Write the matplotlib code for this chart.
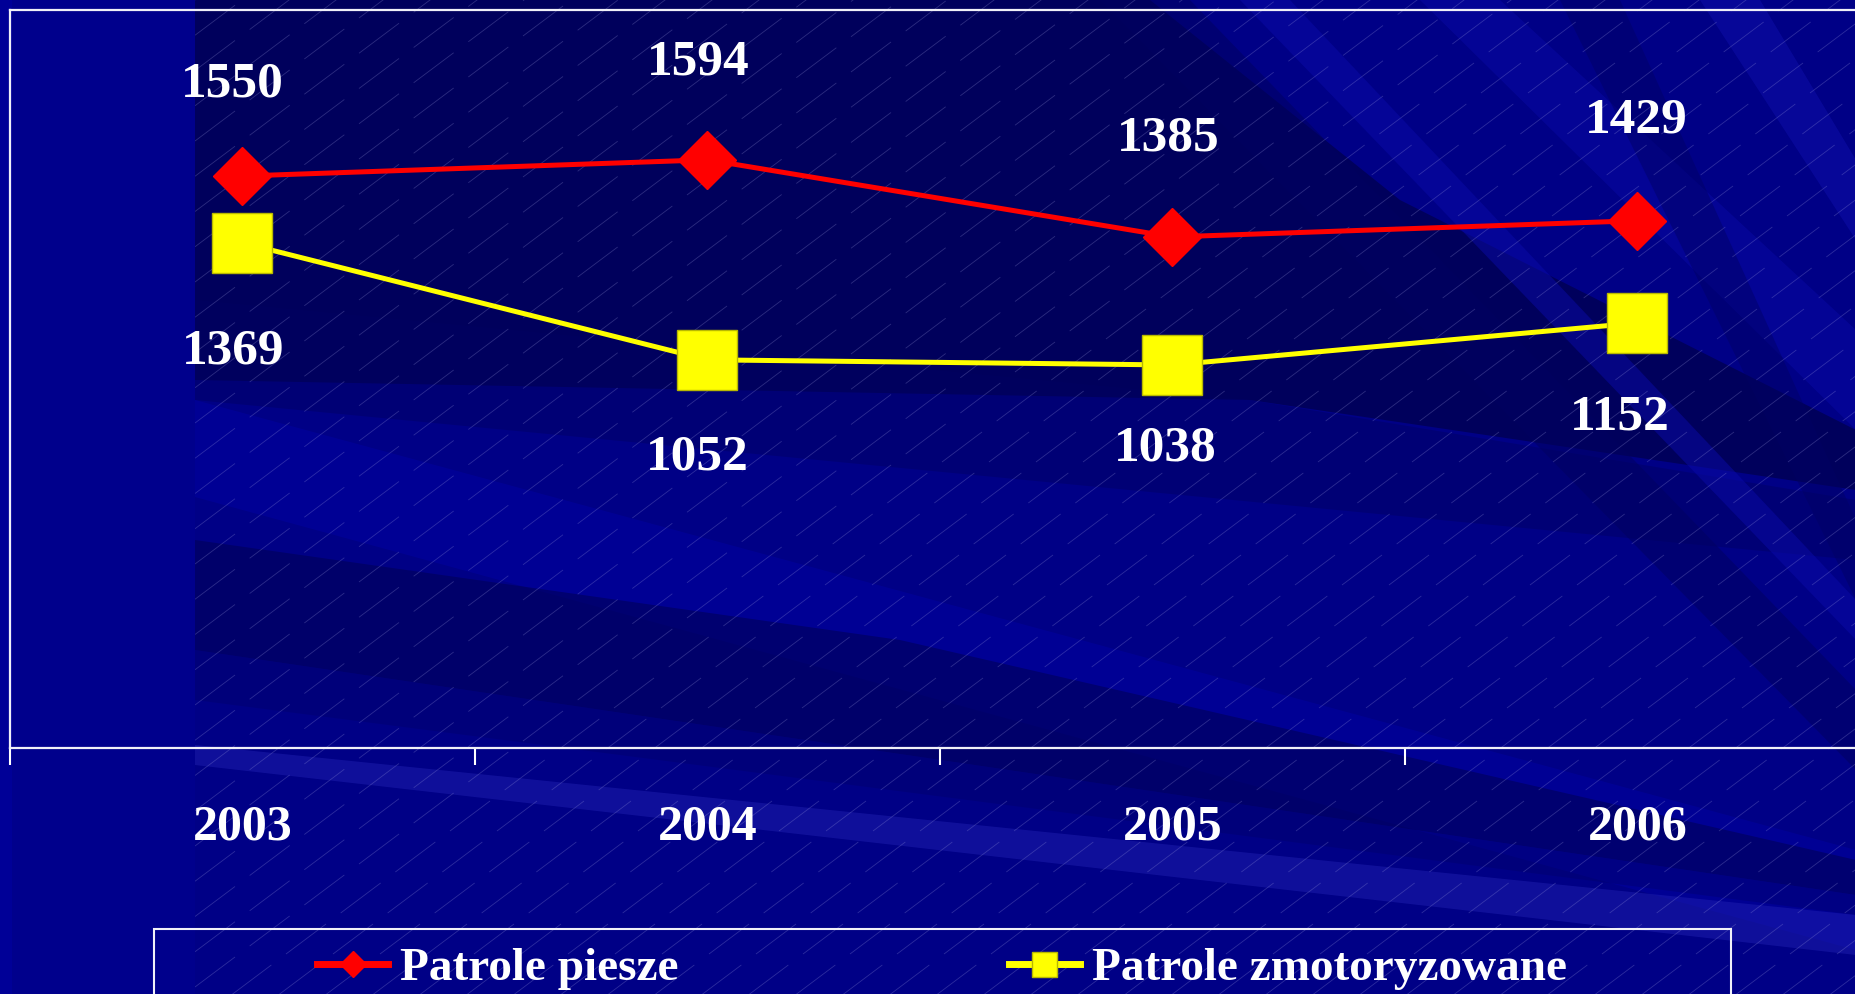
import numpy as np
import matplotlib.pyplot as plt
from matplotlib.lines import Line2D
from matplotlib.patches import Polygon, Rectangle
from matplotlib.collections import LineCollection

# dane
years = ['2003', '2004', '2005', '2006']
piesze = [1550, 1594, 1385, 1429]
zmotoryzowane = [1369, 1052, 1038, 1152]
series_names = ['Patrole piesze', 'Patrole zmotoryzowane']

# przesuniecia etykiet (pt) - jak w oryginale z PowerPointa
off_piesze = [(-7, 66), (-7, 70), (-3, 71), (-1, 72)]
off_zmot = [(-7, -78), (-7, -70), (-5, -60), (-13, -68)]

plt.rcParams['font.family'] = ['Liberation Serif', 'DejaVu Serif']
plt.rcParams['font.weight'] = 'bold'

W, H = 1856, 994
fig = plt.figure(figsize=(W / 100, H / 100), dpi=100)
fig.patch.set_facecolor('#000086')

# --- tlo (pasy + kreskowanie), wspolrzedne w pikselach, y w dol ---
bg = fig.add_axes([0, 0, 1, 1], zorder=-10)
bg.set_xlim(0, W)
bg.set_ylim(H, 0)
bg.axis('off')

bands = [
    # (wierzcholki, kolor, alpha)
    ([(195, 0), (1150, 0), (1400, 200), (1856, 430), (1856, 490), (1250, 400), (195, 380)], '#000052', 0.8),
    ([(195, 300), (1250, 400), (1856, 500), (1856, 560), (195, 400)], '#000062', 0.45),
    ([(195, 400), (1856, 850), (1856, 950), (195, 497)], '#00009a', 0.75),
    ([(195, 540), (900, 640), (1856, 860), (1856, 895), (195, 650)], '#000058', 0.6),
    ([(195, 650), (1856, 895), (1856, 915), (195, 700)], '#000066', 0.35),
    ([(195, 745), (1856, 915), (1856, 955), (195, 765)], '#2323b4', 0.45),
    ([(1100, 0), (1190, 0), (1856, 690), (1856, 770)], '#000060', 0.5),
    ([(1240, 0), (1290, 0), (1856, 600), (1856, 640)], '#0a0aa8', 0.5),
    ([(1420, 0), (1500, 0), (1856, 330), (1856, 430)], '#0a0aa8', 0.45),
    ([(1560, 0), (1620, 0), (1856, 520), (1856, 600)], '#000064', 0.45),
    ([(1700, 0), (1760, 0), (1856, 160), (1856, 240)], '#1010b0', 0.45),
]
for verts, col, a in bands:
    bg.add_patch(Polygon(verts, closed=True, fc=col, ec='none', alpha=a))

slope = 0.75
step = 47 * slope
segs = []
b = 195 * slope
while b < H + W * slope:
    segs.append([(195, b - 195 * slope), (W, b - W * slope)])
    b += step
bg.add_collection(LineCollection(segs, colors='#a0a0e0', linewidths=0.6, alpha=0.28,
                                 linestyles=[(0, (60, 22))]))

bg.add_patch(Rectangle((0, 0), 195, H, fc='#00008c', ec='none', zorder=5))
bg.add_patch(Rectangle((0, 0), 12, H, fc='#0000a0', ec='none', zorder=5, alpha=0.6))

# --- wykres ---
ax = fig.add_axes([10 / W, 1 - 748 / H, 1860 / W, 738 / H])
ax.set_facecolor('none')
x = np.arange(len(years))
ax.plot(x, piesze, color='#ff0000', lw=3.6, marker='D', ms=30, mec='#ff0000', zorder=4)
ax.plot(x, zmotoryzowane, color='#ffff00', lw=3.6, marker='s', ms=43,
        mec='#b8b800', mew=1, zorder=3)
ax.set_xlim(-0.5, 3.5)
ax.set_ylim(0, 2000)

lab = dict(color='white', fontsize=37, fontweight='bold', ha='center', va='center',
           textcoords='offset points')
for xi, v, o in zip(x, piesze, off_piesze):
    ax.annotate(str(v), (xi, v), xytext=o, **lab)
for xi, v, o in zip(x, zmotoryzowane, off_zmot):
    ax.annotate(str(v), (xi, v), xytext=o, **lab)

ax.set_xticks(x, years)
ax.set_xticks([-0.5, 0.5, 1.5, 2.5, 3.5], minor=True)
ax.tick_params(axis='x', which='major', length=0, pad=41, labelcolor='white', labelsize=36)
ax.tick_params(axis='x', which='minor', length=12, width=1.5, color='white', direction='out')
ax.set_yticks([])
for s in ['left', 'top', 'bottom']:
    ax.spines[s].set_color('#f0f0f8')
    ax.spines[s].set_linewidth(1.6)
ax.spines['right'].set_visible(False)

# --- legenda ---
handles = [
    Line2D([], [], color='#ff0000', lw=5, marker='D', ms=13, mec='#ff0000'),
    Line2D([], [], color='#ffff00', lw=5, marker='s', ms=18, mec='#b8b800'),
]
leg = fig.legend(handles, series_names, loc='upper center', bbox_to_anchor=(942 / W, 1 - 947 / H),
                 ncol=2, frameon=False, fontsize=34, handlelength=1.5, handletextpad=0.25,
                 columnspacing=7.0, borderaxespad=0, borderpad=0)
for t in leg.get_texts():
    t.set_color('white')
fig.add_artist(Rectangle((154 / W, 1 - 1060 / H), (1731 - 154) / W, (1060 - 929) / H,
                         transform=fig.transFigure, fill=False, ec='#f0f0f8', lw=1.5))

plt.savefig('out.png', dpi=100)
